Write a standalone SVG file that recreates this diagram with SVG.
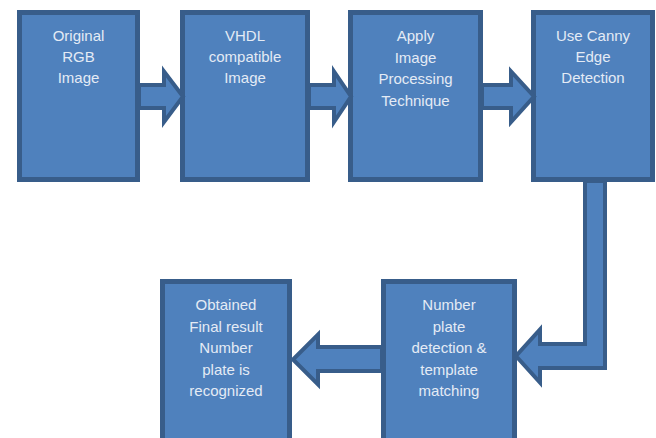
<svg xmlns="http://www.w3.org/2000/svg" width="656" height="438" viewBox="0 0 656 438">
<style>
.box{fill:#4F81BD;stroke:#385D8A;stroke-width:5}
.arr{fill:#4F81BD;stroke:#385D8A;stroke-width:4;stroke-linejoin:miter}
text{font-family:"Liberation Sans",Arial,sans-serif;font-size:15px;fill:#E4EBF5;text-anchor:middle}
</style>
<rect width="656" height="438" fill="#FFFFFF"/>
<g id="n1"><rect class="box" x="19.5" y="12.5" width="118" height="167"/>
<text x="78.5" y="41">Original</text><text x="78.5" y="62">RGB</text><text x="78.5" y="83">Image</text></g>
<g id="n2"><rect class="box" x="182.5" y="12.5" width="125" height="167"/>
<text x="245" y="41">VHDL</text><text x="245" y="62">compatible</text><text x="245" y="83">Image</text></g>
<g id="n3"><rect class="box" x="350.5" y="12.5" width="130" height="167"/>
<text x="415.5" y="41">Apply</text><text x="415.5" y="62.5">Image</text><text x="415.5" y="84">Processing</text><text x="415.5" y="105.5">Technique</text></g>
<g id="n4"><rect class="box" x="533.5" y="12.5" width="119" height="167"/>
<text x="593" y="41">Use Canny</text><text x="593" y="62">Edge</text><text x="593" y="83">Detection</text></g>
<g id="n5"><rect class="box" x="162.5" y="281.5" width="127" height="200"/>
<text x="226" y="310">Obtained</text><text x="226" y="332">Final result</text><text x="226" y="353">Number</text><text x="226" y="375">plate is</text><text x="226" y="396">recognized</text></g>
<g id="n6"><rect class="box" x="383.5" y="281.5" width="131" height="200"/>
<text x="449" y="310">Number</text><text x="449" y="332">plate</text><text x="449" y="353">detection &amp;</text><text x="449" y="375">template</text><text x="449" y="396">matching</text></g>
<g id="connectors">
<polygon class="arr" points="139,85 164,85 164,71.5 183,96.5 164,122 164,108 139,108"/>
<polygon class="arr" points="309,85 334,85 334,71.5 351,96.5 334,122 334,108 309,108"/>
<polygon class="arr" points="482,85 511,85 511,71.5 534,96.5 511,122 511,108 482,108"/>
<polygon class="arr" points="585,181 585,344 540,344 540,329.5 516,356 540,382.5 540,368 605,368 605,181"/>
<polygon class="arr" points="382,347 318,347 318,334.5 293,359.5 318,384.5 318,371 382,371"/>
</g>
</svg>
